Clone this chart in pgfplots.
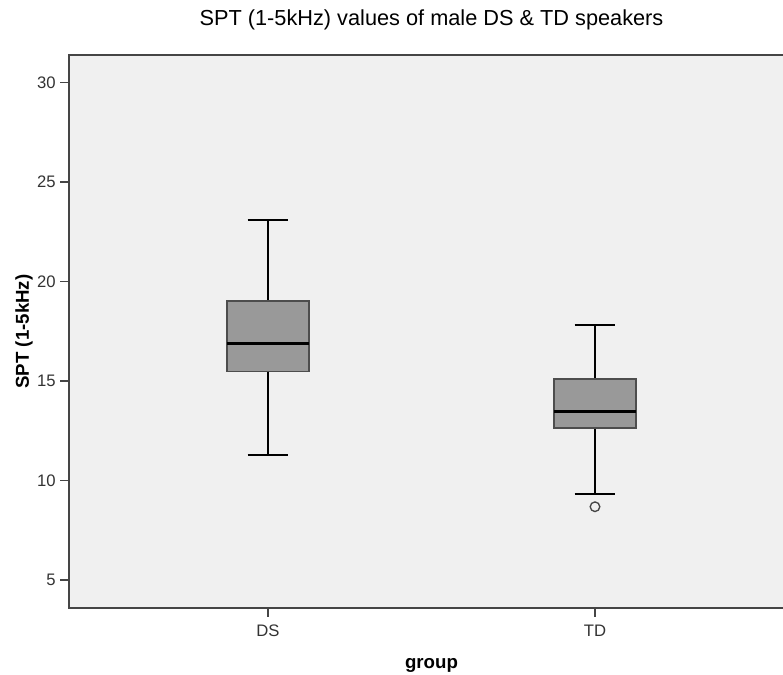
\documentclass[border=0pt]{standalone}
\usepackage{pgfplots}
\pgfplotsset{compat=1.18}
\usepgfplotslibrary{statistics}
\usepackage{fontspec}
\setmainfont{Liberation Sans}

\definecolor{panel}{HTML}{F0F0F0}
\definecolor{boxfill}{HTML}{999999}
\definecolor{boxedge}{HTML}{4D4D4D}
\definecolor{frame}{HTML}{454545}
\definecolor{ticktext}{HTML}{333333}

\begin{document}
\begin{tikzpicture}
\begin{axis}[
  at={(51.75pt,50.25pt)}, anchor=south west,
  scale only axis, width=543.75pt, height=414.75pt,
  xmin=0.3914, xmax=2.6086, ymin=3.59, ymax=31.39,
  axis background/.style={fill=panel},
  axis line style={draw=frame, line width=1.5pt},
  xtick={1,2}, xticklabels={DS,TD},
  ytick={5,10,...,30},
  xtick pos=left, ytick pos=left,
  tick align=outside,
  major tick length=6.5pt,
  tick style={draw=frame, line width=1pt},
  ticklabel style={font=\fontsize{12.5}{14}\selectfont, text=ticktext},
  xticklabel style={yshift=-2.5pt},
  /pgf/number format/assume math mode=true,
  title={SPT (1-5kHz) values of male DS \& TD speakers},
  every axis title/.style={font=\fontsize{16.3}{18}\selectfont, at={(axis description cs:0.5,1.0633)}, anchor=center},
  xlabel={group},
  xlabel style={font=\bfseries\fontsize{14}{16}\selectfont, at={(axis description cs:0.5,-0.103)}, anchor=center},
  ylabel={SPT (1-5kHz)},
  ylabel style={font=\bfseries\fontsize{14}{16}\selectfont, at={(axis description cs:-0.0621,0.5)}, anchor=center},
  boxplot/draw direction=y,
]
% DS speakers
\addplot+[
  boxplot prepared={lower whisker=11.29, lower quartile=15.47, median=16.90,
    upper quartile=19.03, upper whisker=23.10,
    draw position=1, box extend=0.25, whisker extend=0.125,
    every box/.style={draw=boxedge, fill=boxfill, line width=1.2pt},
    every whisker/.style={draw=black, line width=1.5pt},
    every median/.style={draw=black, line width=2.4pt}},
  solid, draw=black, mark=o, mark size=3.6pt,
  mark options={draw=frame, line width=1pt, fill=none},
] coordinates {};
% TD speakers, one outlier below the lower whisker
\addplot+[
  boxplot prepared={lower whisker=9.33, lower quartile=12.64, median=13.45,
    upper quartile=15.10, upper whisker=17.82,
    draw position=2, box extend=0.25, whisker extend=0.125,
    every box/.style={draw=boxedge, fill=boxfill, line width=1.2pt},
    every whisker/.style={draw=black, line width=1.5pt},
    every median/.style={draw=black, line width=2.4pt}},
  solid, draw=black, mark=o, mark size=3.6pt,
  mark options={draw=frame, line width=1pt, fill=none},
] table[row sep=\\, y index=0] {y\\ 8.68\\};
\end{axis}
\pgfresetboundingbox
\path[use as bounding box] (0,0) rectangle (587.25pt,506.25pt);
\end{tikzpicture}
\end{document}
